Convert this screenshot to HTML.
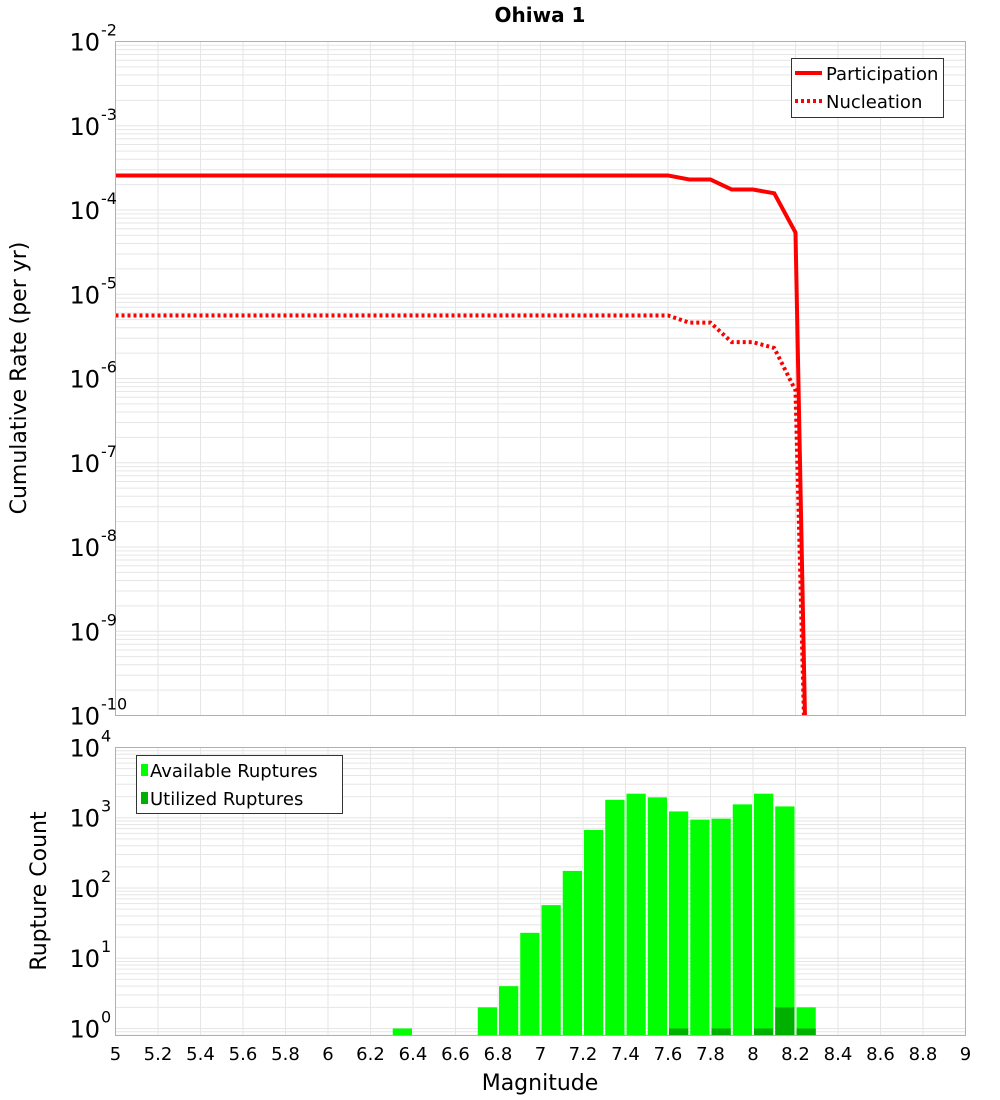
<!DOCTYPE html>
<html><head><meta charset="utf-8"><style>
body{margin:0;background:#fff;}
svg{display:block;font-family:"DejaVu Sans","Liberation Sans",sans-serif;}
</style></head><body>
<svg id="c" width="1000" height="1100" xmlns="http://www.w3.org/2000/svg"></svg>
<script>
const partMags=[5.0,7.6,7.7,7.8,7.9,8.0,8.1,8.2,8.26];
const partVals=[2.57e-4,2.57e-4,2.3e-4,2.3e-4,1.75e-4,1.75e-4,1.58e-4,5.4e-5,1e-12];
const nuclMags=[5.0,7.6,7.7,7.8,7.9,8.0,8.1,8.2,8.26];
const nuclVals=[5.6e-6,5.6e-6,4.6e-6,4.6e-6,2.7e-6,2.7e-6,2.3e-6,7.2e-7,1e-12];
const binCenters=[6.35,6.75,6.85,6.95,7.05,7.15,7.25,7.35,7.45,7.55,7.65,7.75,7.85,7.95,8.05,8.15,8.25];
const availCounts=[1,2,4,23,57,175,670,1800,2200,1950,1230,940,970,1550,2200,1450,2];
const usedCounts=[0,0,0,0,0,0,0,0,0,0,1,0,1,0,1,2,1];
const xTicks=[5,5.2,5.4,5.6,5.8,6,6.2,6.4,6.6,6.8,7,7.2,7.4,7.6,7.8,8,8.2,8.4,8.6,8.8,9];
const topExps=[-2,-3,-4,-5,-6,-7,-8,-9,-10];
const botExps=[4,3,2,1,0];

const NS="http://www.w3.org/2000/svg";
const svg=document.getElementById('c');
function mk(t,a,p){const e=document.createElementNS(NS,t);for(const k in a)e.setAttribute(k,a[k]);(p||svg).appendChild(e);return e;}
const L=115.5,R=965.5;
const X=m=>L+(m-5)/4*(R-L);
const T0=41.5,T1=715.5;
const YT=v=>T0+(-2-Math.log10(v))/8*(T1-T0);
const B0=747.5,B1=1035.5;
const YB=v=>B0+(4-Math.log10(v))/4.1*(B1-B0);

function grid(top,bot,yf,lo,hi){
  const g=mk('g',{});
  
  
  for(let e=lo;e<hi;e++)for(let k=1;k<10;k++){const y=yf(k*Math.pow(10,e));if(y>=top&&y<=bot)mk('line',{x1:L,x2:R,y1:y,y2:y,stroke:'#e6e6e6','stroke-width':1},g);}
  for(let m=5.2;m<9;m+=0.2){const x=X(m);mk('line',{x1:x,x2:x,y1:top,y2:bot,stroke:'#e6e6e6','stroke-width':1},g);}
}
grid(T0,T1,YT,-10,-2);
grid(B0,B1,YB,-1,4);

const t=mk('text',{x:540,y:22,'text-anchor':'middle','font-size':20,'font-weight':'bold'});t.textContent='Ohiwa 1';


// top series
const clip=mk('clipPath',{id:'cp'});mk('rect',{x:L,y:T0,width:R-L,height:T1-T0},clip);
function line(ms,vs,dash,name){
  const p=mk('polyline',{points:ms.map((m,i)=>X(m)+','+YT(vs[i])).join(' '),fill:'none',stroke:'#ff0000','stroke-width':4,'clip-path':'url(#cp)'});
  if(dash)p.setAttribute('stroke-dasharray','3,3');
  
}
line(partMags,partVals,false,'participation-line');
line(nuclMags,nuclVals,true,'nucleation-line');

// bars
binCenters.forEach((c,i)=>{
  const x=X(c-0.05)+1,w=X(c+0.05)-X(c-0.05)-2;
  const b=mk('rect',{x:x,y:YB(availCounts[i]),width:w,height:B1-YB(availCounts[i]),fill:'#00ff00'});
  
  if(usedCounts[i]>0){const u=mk('rect',{x:x,y:YB(usedCounts[i]),width:w,height:B1-YB(usedCounts[i]),fill:'#00b000'});
  }
});

mk('rect',{x:L,y:T0,width:R-L,height:T1-T0,fill:'none',stroke:'#b0b0b0'});
mk('rect',{x:L,y:B0,width:R-L,height:B1-B0,fill:'none',stroke:'#b0b0b0'});

function ylab(e,y){
  const g=mk('text',{x:100,y:y+9,'text-anchor':'end','font-size':24});
  
  g.textContent='10';
  const s=mk('text',{x:101,y:y-6,'font-size':16});s.textContent=String(e);
}
topExps.forEach(e=>ylab(e,YT(Math.pow(10,e))));
botExps.forEach(e=>ylab(e,YB(Math.pow(10,e))));
xTicks.forEach(m=>{const tx=mk('text',{x:X(m),y:1060,'text-anchor':'middle','font-size':18});tx.textContent=String(m);
  });

let a=mk('text',{x:540,y:1090,'text-anchor':'middle','font-size':22});a.textContent='Magnitude';

a=mk('text',{transform:'translate(26,378) rotate(-90)','text-anchor':'middle','font-size':22});a.textContent='Cumulative Rate (per yr)';

a=mk('text',{transform:'translate(46,891) rotate(-90)','text-anchor':'middle','font-size':22});a.textContent='Rupture Count';


// legends
let lg=mk('g',{});
mk('rect',{x:791.5,y:58.5,width:152,height:59,fill:'#fff',stroke:'#333'},lg);
mk('line',{x1:795,x2:822,y1:73,y2:73,stroke:'#f00','stroke-width':4},lg);
mk('line',{x1:795,x2:822,y1:101,y2:101,stroke:'#f00','stroke-width':4,'stroke-dasharray':'3,3'},lg);
let tt=mk('text',{x:826,y:80,'font-size':18},lg);tt.textContent='Participation';
tt=mk('text',{x:826,y:108,'font-size':18},lg);tt.textContent='Nucleation';
lg=mk('g',{});
mk('rect',{x:136.5,y:755.5,width:206,height:58,fill:'#fff',stroke:'#333'},lg);
mk('rect',{x:141,y:764,width:7,height:12,fill:'#00ff00'},lg);
mk('rect',{x:141,y:792,width:7,height:12,fill:'#00b000'},lg);
tt=mk('text',{x:150,y:777,'font-size':18},lg);tt.textContent='Available Ruptures';
tt=mk('text',{x:150,y:805,'font-size':18},lg);tt.textContent='Utilized Ruptures';
</script>
</body></html>
